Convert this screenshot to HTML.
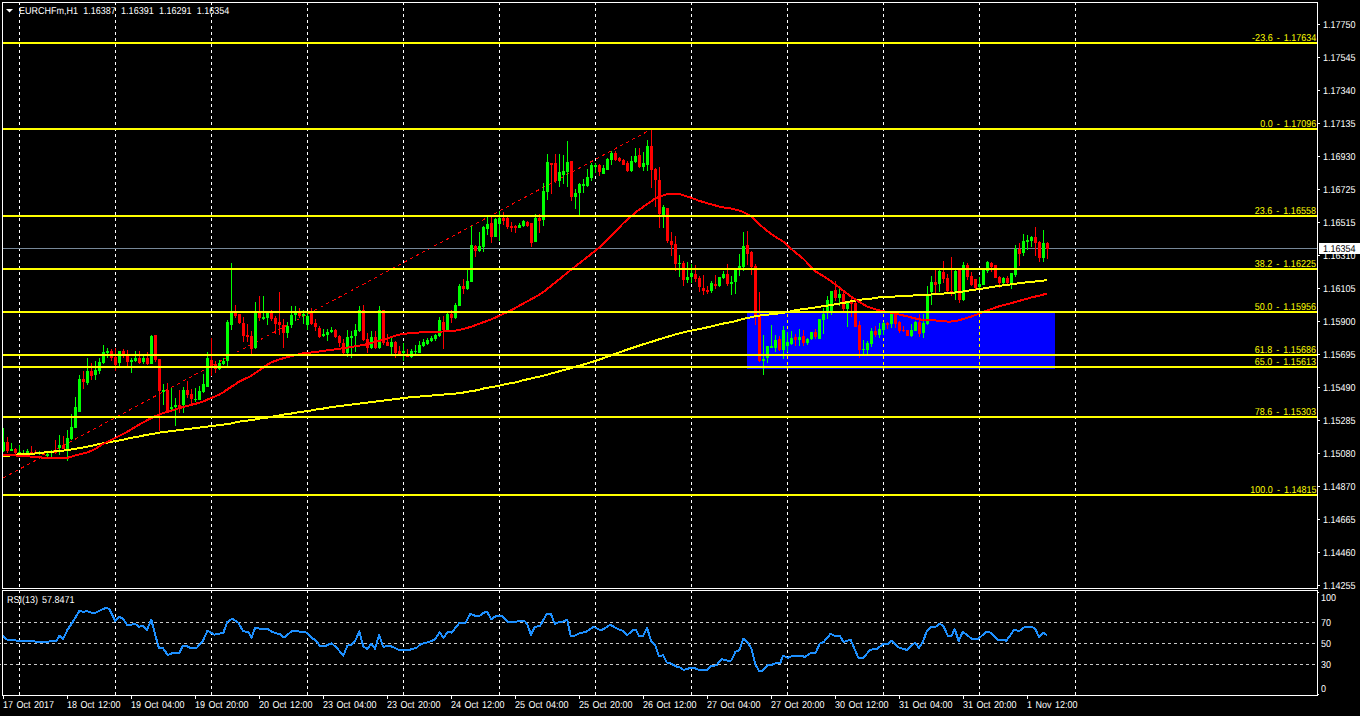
<!DOCTYPE html>
<html><head><meta charset="utf-8"><style>
html,body{margin:0;padding:0;background:#000;}
body{width:1360px;height:716px;position:relative;overflow:hidden;}
.t{position:absolute;font-family:"Liberation Sans",sans-serif;font-size:10px;line-height:12px;white-space:pre;transform:scaleX(0.9);text-rendering:geometricPrecision;transform-origin:0 0;}
.t.r{transform-origin:100% 0;}
</style></head><body>
<svg width="1360" height="716" viewBox="0 0 1360 716" shape-rendering="crispEdges" style="position:absolute;left:0;top:0"><rect x="0" y="0" width="1360" height="716" fill="#000"/><rect x="747" y="311" width="308" height="58" fill="#0000ff"/><line x1="19.5" y1="2" x2="19.5" y2="588" stroke="#fff" stroke-width="1" stroke-dasharray="3 3"/><line x1="19.5" y1="590" x2="19.5" y2="695" stroke="#fff" stroke-width="1" stroke-dasharray="3 3"/><line x1="115.5" y1="2" x2="115.5" y2="588" stroke="#fff" stroke-width="1" stroke-dasharray="3 3"/><line x1="115.5" y1="590" x2="115.5" y2="695" stroke="#fff" stroke-width="1" stroke-dasharray="3 3"/><line x1="211.5" y1="2" x2="211.5" y2="588" stroke="#fff" stroke-width="1" stroke-dasharray="3 3"/><line x1="211.5" y1="590" x2="211.5" y2="695" stroke="#fff" stroke-width="1" stroke-dasharray="3 3"/><line x1="307.5" y1="2" x2="307.5" y2="588" stroke="#fff" stroke-width="1" stroke-dasharray="3 3"/><line x1="307.5" y1="590" x2="307.5" y2="695" stroke="#fff" stroke-width="1" stroke-dasharray="3 3"/><line x1="403.5" y1="2" x2="403.5" y2="588" stroke="#fff" stroke-width="1" stroke-dasharray="3 3"/><line x1="403.5" y1="590" x2="403.5" y2="695" stroke="#fff" stroke-width="1" stroke-dasharray="3 3"/><line x1="499.5" y1="2" x2="499.5" y2="588" stroke="#fff" stroke-width="1" stroke-dasharray="3 3"/><line x1="499.5" y1="590" x2="499.5" y2="695" stroke="#fff" stroke-width="1" stroke-dasharray="3 3"/><line x1="595.5" y1="2" x2="595.5" y2="588" stroke="#fff" stroke-width="1" stroke-dasharray="3 3"/><line x1="595.5" y1="590" x2="595.5" y2="695" stroke="#fff" stroke-width="1" stroke-dasharray="3 3"/><line x1="691.5" y1="2" x2="691.5" y2="588" stroke="#fff" stroke-width="1" stroke-dasharray="3 3"/><line x1="691.5" y1="590" x2="691.5" y2="695" stroke="#fff" stroke-width="1" stroke-dasharray="3 3"/><line x1="787.5" y1="2" x2="787.5" y2="588" stroke="#fff" stroke-width="1" stroke-dasharray="3 3"/><line x1="787.5" y1="311" x2="787.5" y2="369" stroke="#ffff00" stroke-width="1" stroke-dasharray="3 3" stroke-dashoffset="-309"/><line x1="787.5" y1="590" x2="787.5" y2="695" stroke="#fff" stroke-width="1" stroke-dasharray="3 3"/><line x1="883.5" y1="2" x2="883.5" y2="588" stroke="#fff" stroke-width="1" stroke-dasharray="3 3"/><line x1="883.5" y1="311" x2="883.5" y2="369" stroke="#ffff00" stroke-width="1" stroke-dasharray="3 3" stroke-dashoffset="-309"/><line x1="883.5" y1="590" x2="883.5" y2="695" stroke="#fff" stroke-width="1" stroke-dasharray="3 3"/><line x1="979.5" y1="2" x2="979.5" y2="588" stroke="#fff" stroke-width="1" stroke-dasharray="3 3"/><line x1="979.5" y1="311" x2="979.5" y2="369" stroke="#ffff00" stroke-width="1" stroke-dasharray="3 3" stroke-dashoffset="-309"/><line x1="979.5" y1="590" x2="979.5" y2="695" stroke="#fff" stroke-width="1" stroke-dasharray="3 3"/><line x1="1075.5" y1="2" x2="1075.5" y2="588" stroke="#fff" stroke-width="1" stroke-dasharray="3 3"/><line x1="1075.5" y1="590" x2="1075.5" y2="695" stroke="#fff" stroke-width="1" stroke-dasharray="3 3"/><line x1="3" y1="478.0" x2="651" y2="129.5" stroke="#ff0000" stroke-width="1" stroke-dasharray="3.4 3.4" shape-rendering="crispEdges"/><rect x="3" y="248" width="1314" height="1" fill="#778899"/><rect x="3" y="428" width="1" height="24" fill="#00ff00"/><rect x="2" y="442" width="3" height="9" fill="#00ff00"/><rect x="7" y="437" width="1" height="16" fill="#ff0000"/><rect x="6" y="442" width="3" height="9" fill="#ff0000"/><rect x="11" y="443" width="1" height="8" fill="#00ff00"/><rect x="10" y="449" width="3" height="2" fill="#00ff00"/><rect x="15" y="448" width="1" height="6" fill="#ff0000"/><rect x="14" y="449" width="3" height="4" fill="#ff0000"/><rect x="19" y="445" width="1" height="9" fill="#00ff00"/><rect x="18" y="452" width="3" height="2" fill="#00ff00"/><rect x="23" y="450" width="1" height="4" fill="#00ff00"/><rect x="22" y="453" width="3" height="1" fill="#00ff00"/><rect x="27" y="449" width="1" height="4" fill="#00ff00"/><rect x="26" y="451" width="3" height="2" fill="#00ff00"/><rect x="31" y="446" width="1" height="7" fill="#ff0000"/><rect x="30" y="452" width="3" height="1" fill="#ff0000"/><rect x="35" y="450" width="1" height="4" fill="#ff0000"/><rect x="34" y="452" width="3" height="2" fill="#ff0000"/><rect x="39" y="451" width="1" height="4" fill="#00ff00"/><rect x="38" y="452" width="3" height="2" fill="#00ff00"/><rect x="43" y="453" width="1" height="2" fill="#ff0000"/><rect x="42" y="453" width="3" height="2" fill="#ff0000"/><rect x="47" y="453" width="1" height="4" fill="#00ff00"/><rect x="46" y="454" width="3" height="2" fill="#00ff00"/><rect x="51" y="450" width="1" height="7" fill="#00ff00"/><rect x="50" y="451" width="3" height="2" fill="#00ff00"/><rect x="55" y="440" width="1" height="14" fill="#ff0000"/><rect x="54" y="452" width="3" height="1" fill="#ff0000"/><rect x="59" y="435" width="1" height="20" fill="#00ff00"/><rect x="58" y="445" width="3" height="3" fill="#00ff00"/><rect x="63" y="436" width="1" height="13" fill="#ff0000"/><rect x="62" y="445" width="3" height="4" fill="#ff0000"/><rect x="67" y="430" width="1" height="31" fill="#00ff00"/><rect x="66" y="438" width="3" height="11" fill="#00ff00"/><rect x="71" y="414" width="1" height="26" fill="#00ff00"/><rect x="70" y="427" width="3" height="12" fill="#00ff00"/><rect x="75" y="397" width="1" height="31" fill="#00ff00"/><rect x="74" y="407" width="3" height="21" fill="#00ff00"/><rect x="79" y="375" width="1" height="37" fill="#00ff00"/><rect x="78" y="379" width="3" height="33" fill="#00ff00"/><rect x="83" y="371" width="1" height="18" fill="#ff0000"/><rect x="82" y="379" width="3" height="3" fill="#ff0000"/><rect x="87" y="358" width="1" height="27" fill="#00ff00"/><rect x="86" y="371" width="3" height="12" fill="#00ff00"/><rect x="91" y="363" width="1" height="17" fill="#ff0000"/><rect x="90" y="371" width="3" height="5" fill="#ff0000"/><rect x="95" y="361" width="1" height="19" fill="#00ff00"/><rect x="94" y="370" width="3" height="5" fill="#00ff00"/><rect x="99" y="358" width="1" height="16" fill="#00ff00"/><rect x="98" y="362" width="3" height="9" fill="#00ff00"/><rect x="103" y="345" width="1" height="19" fill="#00ff00"/><rect x="102" y="352" width="3" height="11" fill="#00ff00"/><rect x="107" y="348" width="1" height="10" fill="#00ff00"/><rect x="106" y="351" width="3" height="2" fill="#00ff00"/><rect x="111" y="349" width="1" height="12" fill="#ff0000"/><rect x="110" y="351" width="3" height="7" fill="#ff0000"/><rect x="115" y="348" width="1" height="23" fill="#ff0000"/><rect x="114" y="357" width="3" height="8" fill="#ff0000"/><rect x="119" y="351" width="1" height="15" fill="#00ff00"/><rect x="118" y="351" width="3" height="12" fill="#00ff00"/><rect x="123" y="349" width="1" height="9" fill="#ff0000"/><rect x="122" y="351" width="3" height="4" fill="#ff0000"/><rect x="127" y="350" width="1" height="16" fill="#ff0000"/><rect x="126" y="355" width="3" height="7" fill="#ff0000"/><rect x="131" y="358" width="1" height="15" fill="#00ff00"/><rect x="130" y="360" width="3" height="2" fill="#00ff00"/><rect x="135" y="351" width="1" height="11" fill="#00ff00"/><rect x="134" y="358" width="3" height="3" fill="#00ff00"/><rect x="139" y="351" width="1" height="13" fill="#ff0000"/><rect x="138" y="358" width="3" height="5" fill="#ff0000"/><rect x="143" y="355" width="1" height="9" fill="#00ff00"/><rect x="142" y="358" width="3" height="4" fill="#00ff00"/><rect x="147" y="352" width="1" height="13" fill="#ff0000"/><rect x="146" y="358" width="3" height="6" fill="#ff0000"/><rect x="151" y="335" width="1" height="29" fill="#00ff00"/><rect x="150" y="336" width="3" height="28" fill="#00ff00"/><rect x="155" y="335" width="1" height="27" fill="#ff0000"/><rect x="154" y="335" width="3" height="25" fill="#ff0000"/><rect x="159" y="359" width="1" height="72" fill="#ff0000"/><rect x="158" y="359" width="3" height="32" fill="#ff0000"/><rect x="163" y="384" width="1" height="21" fill="#00ff00"/><rect x="162" y="390" width="3" height="2" fill="#00ff00"/><rect x="167" y="383" width="1" height="29" fill="#ff0000"/><rect x="166" y="390" width="3" height="21" fill="#ff0000"/><rect x="171" y="388" width="1" height="22" fill="#00ff00"/><rect x="170" y="407" width="3" height="2" fill="#00ff00"/><rect x="175" y="398" width="1" height="28" fill="#00ff00"/><rect x="174" y="405" width="3" height="2" fill="#00ff00"/><rect x="179" y="390" width="1" height="23" fill="#ff0000"/><rect x="178" y="405" width="3" height="2" fill="#ff0000"/><rect x="183" y="387" width="1" height="26" fill="#00ff00"/><rect x="182" y="390" width="3" height="15" fill="#00ff00"/><rect x="187" y="381" width="1" height="17" fill="#ff0000"/><rect x="186" y="390" width="3" height="5" fill="#ff0000"/><rect x="191" y="389" width="1" height="15" fill="#ff0000"/><rect x="190" y="394" width="3" height="5" fill="#ff0000"/><rect x="195" y="388" width="1" height="14" fill="#00ff00"/><rect x="194" y="399" width="3" height="1" fill="#00ff00"/><rect x="199" y="386" width="1" height="14" fill="#00ff00"/><rect x="198" y="391" width="3" height="9" fill="#00ff00"/><rect x="203" y="374" width="1" height="19" fill="#00ff00"/><rect x="202" y="384" width="3" height="8" fill="#00ff00"/><rect x="207" y="352" width="1" height="35" fill="#00ff00"/><rect x="206" y="358" width="3" height="29" fill="#00ff00"/><rect x="211" y="338" width="1" height="38" fill="#ff0000"/><rect x="210" y="360" width="3" height="7" fill="#ff0000"/><rect x="215" y="361" width="1" height="12" fill="#ff0000"/><rect x="214" y="364" width="3" height="5" fill="#ff0000"/><rect x="219" y="360" width="1" height="10" fill="#00ff00"/><rect x="218" y="363" width="3" height="6" fill="#00ff00"/><rect x="223" y="358" width="1" height="7" fill="#00ff00"/><rect x="222" y="361" width="3" height="3" fill="#00ff00"/><rect x="227" y="320" width="1" height="46" fill="#00ff00"/><rect x="226" y="322" width="3" height="39" fill="#00ff00"/><rect x="231" y="263" width="1" height="67" fill="#00ff00"/><rect x="230" y="313" width="3" height="12" fill="#00ff00"/><rect x="235" y="305" width="1" height="13" fill="#ff0000"/><rect x="234" y="313" width="3" height="3" fill="#ff0000"/><rect x="239" y="314" width="1" height="10" fill="#ff0000"/><rect x="238" y="314" width="3" height="9" fill="#ff0000"/><rect x="243" y="317" width="1" height="25" fill="#ff0000"/><rect x="242" y="323" width="3" height="13" fill="#ff0000"/><rect x="247" y="324" width="1" height="18" fill="#ff0000"/><rect x="246" y="335" width="3" height="2" fill="#ff0000"/><rect x="251" y="331" width="1" height="23" fill="#ff0000"/><rect x="250" y="336" width="3" height="13" fill="#ff0000"/><rect x="255" y="302" width="1" height="47" fill="#00ff00"/><rect x="254" y="313" width="3" height="35" fill="#00ff00"/><rect x="259" y="296" width="1" height="25" fill="#ff0000"/><rect x="258" y="313" width="3" height="5" fill="#ff0000"/><rect x="263" y="296" width="1" height="24" fill="#00ff00"/><rect x="262" y="317" width="3" height="2" fill="#00ff00"/><rect x="267" y="311" width="1" height="14" fill="#00ff00"/><rect x="266" y="313" width="3" height="5" fill="#00ff00"/><rect x="271" y="310" width="1" height="11" fill="#ff0000"/><rect x="270" y="313" width="3" height="6" fill="#ff0000"/><rect x="275" y="316" width="1" height="18" fill="#ff0000"/><rect x="274" y="318" width="3" height="6" fill="#ff0000"/><rect x="279" y="292" width="1" height="43" fill="#ff0000"/><rect x="278" y="322" width="3" height="3" fill="#ff0000"/><rect x="283" y="319" width="1" height="29" fill="#ff0000"/><rect x="282" y="325" width="3" height="8" fill="#ff0000"/><rect x="287" y="322" width="1" height="16" fill="#00ff00"/><rect x="286" y="326" width="3" height="7" fill="#00ff00"/><rect x="291" y="306" width="1" height="22" fill="#00ff00"/><rect x="290" y="315" width="3" height="10" fill="#00ff00"/><rect x="295" y="306" width="1" height="15" fill="#00ff00"/><rect x="294" y="313" width="3" height="2" fill="#00ff00"/><rect x="299" y="308" width="1" height="10" fill="#ff0000"/><rect x="298" y="313" width="3" height="3" fill="#ff0000"/><rect x="303" y="310" width="1" height="14" fill="#00ff00"/><rect x="302" y="314" width="3" height="2" fill="#00ff00"/><rect x="307" y="313" width="1" height="17" fill="#00ff00"/><rect x="306" y="316" width="3" height="9" fill="#00ff00"/><rect x="311" y="308" width="1" height="17" fill="#ff0000"/><rect x="310" y="313" width="3" height="11" fill="#ff0000"/><rect x="315" y="319" width="1" height="12" fill="#ff0000"/><rect x="314" y="323" width="3" height="4" fill="#ff0000"/><rect x="319" y="326" width="1" height="12" fill="#ff0000"/><rect x="318" y="328" width="3" height="9" fill="#ff0000"/><rect x="323" y="329" width="1" height="8" fill="#00ff00"/><rect x="322" y="334" width="3" height="2" fill="#00ff00"/><rect x="327" y="329" width="1" height="12" fill="#00ff00"/><rect x="326" y="332" width="3" height="3" fill="#00ff00"/><rect x="331" y="327" width="1" height="6" fill="#00ff00"/><rect x="330" y="330" width="3" height="2" fill="#00ff00"/><rect x="335" y="329" width="1" height="9" fill="#ff0000"/><rect x="334" y="330" width="3" height="7" fill="#ff0000"/><rect x="339" y="335" width="1" height="12" fill="#ff0000"/><rect x="338" y="336" width="3" height="7" fill="#ff0000"/><rect x="343" y="339" width="1" height="15" fill="#ff0000"/><rect x="342" y="343" width="3" height="10" fill="#ff0000"/><rect x="347" y="330" width="1" height="27" fill="#00ff00"/><rect x="346" y="337" width="3" height="16" fill="#00ff00"/><rect x="351" y="331" width="1" height="27" fill="#00ff00"/><rect x="350" y="336" width="3" height="2" fill="#00ff00"/><rect x="355" y="324" width="1" height="28" fill="#00ff00"/><rect x="354" y="330" width="3" height="6" fill="#00ff00"/><rect x="359" y="306" width="1" height="26" fill="#00ff00"/><rect x="358" y="310" width="3" height="21" fill="#00ff00"/><rect x="363" y="305" width="1" height="36" fill="#ff0000"/><rect x="362" y="310" width="3" height="30" fill="#ff0000"/><rect x="367" y="333" width="1" height="20" fill="#ff0000"/><rect x="366" y="339" width="3" height="9" fill="#ff0000"/><rect x="371" y="331" width="1" height="18" fill="#00ff00"/><rect x="370" y="337" width="3" height="11" fill="#00ff00"/><rect x="375" y="331" width="1" height="18" fill="#ff0000"/><rect x="374" y="337" width="3" height="11" fill="#ff0000"/><rect x="379" y="306" width="1" height="43" fill="#00ff00"/><rect x="378" y="310" width="3" height="38" fill="#00ff00"/><rect x="383" y="310" width="1" height="35" fill="#ff0000"/><rect x="382" y="310" width="3" height="33" fill="#ff0000"/><rect x="387" y="334" width="1" height="12" fill="#ff0000"/><rect x="386" y="342" width="3" height="4" fill="#ff0000"/><rect x="391" y="338" width="1" height="16" fill="#00ff00"/><rect x="390" y="342" width="3" height="5" fill="#00ff00"/><rect x="395" y="341" width="1" height="17" fill="#ff0000"/><rect x="394" y="342" width="3" height="11" fill="#ff0000"/><rect x="399" y="346" width="1" height="10" fill="#ff0000"/><rect x="398" y="351" width="3" height="5" fill="#ff0000"/><rect x="403" y="343" width="1" height="18" fill="#00ff00"/><rect x="402" y="351" width="3" height="2" fill="#00ff00"/><rect x="407" y="349" width="1" height="8" fill="#ff0000"/><rect x="406" y="354" width="3" height="3" fill="#ff0000"/><rect x="411" y="349" width="1" height="9" fill="#00ff00"/><rect x="410" y="351" width="3" height="6" fill="#00ff00"/><rect x="415" y="345" width="1" height="9" fill="#00ff00"/><rect x="414" y="351" width="3" height="1" fill="#00ff00"/><rect x="419" y="341" width="1" height="12" fill="#00ff00"/><rect x="418" y="345" width="3" height="8" fill="#00ff00"/><rect x="423" y="339" width="1" height="8" fill="#00ff00"/><rect x="422" y="342" width="3" height="4" fill="#00ff00"/><rect x="427" y="338" width="1" height="7" fill="#00ff00"/><rect x="426" y="340" width="3" height="4" fill="#00ff00"/><rect x="431" y="336" width="1" height="6" fill="#00ff00"/><rect x="430" y="338" width="3" height="3" fill="#00ff00"/><rect x="435" y="334" width="1" height="7" fill="#00ff00"/><rect x="434" y="335" width="3" height="4" fill="#00ff00"/><rect x="439" y="317" width="1" height="20" fill="#00ff00"/><rect x="438" y="320" width="3" height="16" fill="#00ff00"/><rect x="443" y="316" width="1" height="33" fill="#ff0000"/><rect x="442" y="322" width="3" height="8" fill="#ff0000"/><rect x="447" y="313" width="1" height="19" fill="#00ff00"/><rect x="446" y="314" width="3" height="16" fill="#00ff00"/><rect x="451" y="310" width="1" height="13" fill="#ff0000"/><rect x="450" y="314" width="3" height="4" fill="#ff0000"/><rect x="455" y="303" width="1" height="16" fill="#00ff00"/><rect x="454" y="305" width="3" height="13" fill="#00ff00"/><rect x="459" y="284" width="1" height="22" fill="#00ff00"/><rect x="458" y="286" width="3" height="20" fill="#00ff00"/><rect x="463" y="279" width="1" height="15" fill="#ff0000"/><rect x="462" y="286" width="3" height="3" fill="#ff0000"/><rect x="467" y="270" width="1" height="20" fill="#00ff00"/><rect x="466" y="281" width="3" height="8" fill="#00ff00"/><rect x="471" y="226" width="1" height="56" fill="#00ff00"/><rect x="470" y="245" width="3" height="37" fill="#00ff00"/><rect x="475" y="245" width="1" height="12" fill="#ff0000"/><rect x="474" y="246" width="3" height="5" fill="#ff0000"/><rect x="479" y="232" width="1" height="20" fill="#00ff00"/><rect x="478" y="246" width="3" height="5" fill="#00ff00"/><rect x="483" y="226" width="1" height="26" fill="#00ff00"/><rect x="482" y="227" width="3" height="20" fill="#00ff00"/><rect x="487" y="217" width="1" height="18" fill="#00ff00"/><rect x="486" y="224" width="3" height="5" fill="#00ff00"/><rect x="491" y="217" width="1" height="26" fill="#ff0000"/><rect x="490" y="223" width="3" height="14" fill="#ff0000"/><rect x="495" y="218" width="1" height="19" fill="#00ff00"/><rect x="494" y="219" width="3" height="18" fill="#00ff00"/><rect x="499" y="211" width="1" height="30" fill="#00ff00"/><rect x="498" y="218" width="3" height="6" fill="#00ff00"/><rect x="503" y="212" width="1" height="13" fill="#ff0000"/><rect x="502" y="218" width="3" height="3" fill="#ff0000"/><rect x="507" y="217" width="1" height="12" fill="#ff0000"/><rect x="506" y="218" width="3" height="9" fill="#ff0000"/><rect x="511" y="222" width="1" height="10" fill="#ff0000"/><rect x="510" y="226" width="3" height="2" fill="#ff0000"/><rect x="515" y="225" width="1" height="8" fill="#ff0000"/><rect x="514" y="226" width="3" height="2" fill="#ff0000"/><rect x="519" y="223" width="1" height="5" fill="#00ff00"/><rect x="518" y="225" width="3" height="3" fill="#00ff00"/><rect x="523" y="220" width="1" height="7" fill="#00ff00"/><rect x="522" y="221" width="3" height="5" fill="#00ff00"/><rect x="527" y="221" width="1" height="6" fill="#ff0000"/><rect x="526" y="222" width="3" height="4" fill="#ff0000"/><rect x="531" y="223" width="1" height="24" fill="#ff0000"/><rect x="530" y="223" width="3" height="20" fill="#ff0000"/><rect x="535" y="214" width="1" height="28" fill="#00ff00"/><rect x="534" y="218" width="3" height="24" fill="#00ff00"/><rect x="539" y="214" width="1" height="19" fill="#ff0000"/><rect x="538" y="218" width="3" height="3" fill="#ff0000"/><rect x="543" y="183" width="1" height="43" fill="#00ff00"/><rect x="542" y="191" width="3" height="29" fill="#00ff00"/><rect x="547" y="154" width="1" height="46" fill="#00ff00"/><rect x="546" y="162" width="3" height="30" fill="#00ff00"/><rect x="551" y="163" width="1" height="31" fill="#ff0000"/><rect x="550" y="163" width="3" height="2" fill="#ff0000"/><rect x="555" y="154" width="1" height="29" fill="#ff0000"/><rect x="554" y="163" width="3" height="18" fill="#ff0000"/><rect x="559" y="154" width="1" height="33" fill="#00ff00"/><rect x="558" y="172" width="3" height="9" fill="#00ff00"/><rect x="563" y="155" width="1" height="29" fill="#00ff00"/><rect x="562" y="171" width="3" height="4" fill="#00ff00"/><rect x="567" y="141" width="1" height="46" fill="#00ff00"/><rect x="566" y="162" width="3" height="10" fill="#00ff00"/><rect x="571" y="161" width="1" height="40" fill="#ff0000"/><rect x="570" y="161" width="3" height="36" fill="#ff0000"/><rect x="575" y="189" width="1" height="20" fill="#00ff00"/><rect x="574" y="193" width="3" height="4" fill="#00ff00"/><rect x="579" y="183" width="1" height="32" fill="#00ff00"/><rect x="578" y="184" width="3" height="9" fill="#00ff00"/><rect x="583" y="179" width="1" height="14" fill="#00ff00"/><rect x="582" y="184" width="3" height="2" fill="#00ff00"/><rect x="587" y="169" width="1" height="18" fill="#00ff00"/><rect x="586" y="177" width="3" height="9" fill="#00ff00"/><rect x="591" y="163" width="1" height="18" fill="#00ff00"/><rect x="590" y="165" width="3" height="13" fill="#00ff00"/><rect x="595" y="163" width="1" height="10" fill="#00ff00"/><rect x="594" y="165" width="3" height="2" fill="#00ff00"/><rect x="599" y="164" width="1" height="12" fill="#ff0000"/><rect x="598" y="165" width="3" height="7" fill="#ff0000"/><rect x="603" y="165" width="1" height="9" fill="#00ff00"/><rect x="602" y="168" width="3" height="6" fill="#00ff00"/><rect x="607" y="158" width="1" height="12" fill="#00ff00"/><rect x="606" y="159" width="3" height="11" fill="#00ff00"/><rect x="611" y="151" width="1" height="14" fill="#00ff00"/><rect x="610" y="153" width="3" height="7" fill="#00ff00"/><rect x="615" y="151" width="1" height="10" fill="#ff0000"/><rect x="614" y="153" width="3" height="7" fill="#ff0000"/><rect x="619" y="157" width="1" height="5" fill="#ff0000"/><rect x="618" y="158" width="3" height="3" fill="#ff0000"/><rect x="623" y="159" width="1" height="6" fill="#ff0000"/><rect x="622" y="160" width="3" height="5" fill="#ff0000"/><rect x="627" y="161" width="1" height="11" fill="#ff0000"/><rect x="626" y="163" width="3" height="8" fill="#ff0000"/><rect x="631" y="156" width="1" height="16" fill="#00ff00"/><rect x="630" y="161" width="3" height="10" fill="#00ff00"/><rect x="635" y="148" width="1" height="15" fill="#00ff00"/><rect x="634" y="156" width="3" height="6" fill="#00ff00"/><rect x="639" y="148" width="1" height="20" fill="#ff0000"/><rect x="638" y="155" width="3" height="12" fill="#ff0000"/><rect x="643" y="152" width="1" height="19" fill="#00ff00"/><rect x="642" y="163" width="3" height="4" fill="#00ff00"/><rect x="647" y="140" width="1" height="31" fill="#00ff00"/><rect x="646" y="146" width="3" height="19" fill="#00ff00"/><rect x="651" y="130" width="1" height="58" fill="#ff0000"/><rect x="650" y="146" width="3" height="24" fill="#ff0000"/><rect x="655" y="168" width="1" height="39" fill="#ff0000"/><rect x="654" y="169" width="3" height="11" fill="#ff0000"/><rect x="659" y="167" width="1" height="61" fill="#ff0000"/><rect x="658" y="180" width="3" height="34" fill="#ff0000"/><rect x="663" y="205" width="1" height="23" fill="#00ff00"/><rect x="662" y="207" width="3" height="8" fill="#00ff00"/><rect x="667" y="208" width="1" height="35" fill="#ff0000"/><rect x="666" y="208" width="3" height="33" fill="#ff0000"/><rect x="671" y="232" width="1" height="24" fill="#ff0000"/><rect x="670" y="241" width="3" height="4" fill="#ff0000"/><rect x="675" y="236" width="1" height="35" fill="#ff0000"/><rect x="674" y="244" width="3" height="20" fill="#ff0000"/><rect x="679" y="255" width="1" height="22" fill="#00ff00"/><rect x="678" y="263" width="3" height="1" fill="#00ff00"/><rect x="683" y="261" width="1" height="25" fill="#ff0000"/><rect x="682" y="263" width="3" height="17" fill="#ff0000"/><rect x="687" y="262" width="1" height="21" fill="#00ff00"/><rect x="686" y="277" width="3" height="3" fill="#00ff00"/><rect x="691" y="264" width="1" height="19" fill="#00ff00"/><rect x="690" y="273" width="3" height="4" fill="#00ff00"/><rect x="695" y="265" width="1" height="17" fill="#ff0000"/><rect x="694" y="274" width="3" height="5" fill="#ff0000"/><rect x="699" y="276" width="1" height="16" fill="#ff0000"/><rect x="698" y="278" width="3" height="9" fill="#ff0000"/><rect x="703" y="275" width="1" height="20" fill="#ff0000"/><rect x="702" y="288" width="3" height="3" fill="#ff0000"/><rect x="707" y="286" width="1" height="8" fill="#ff0000"/><rect x="706" y="290" width="3" height="2" fill="#ff0000"/><rect x="711" y="281" width="1" height="12" fill="#00ff00"/><rect x="710" y="283" width="3" height="8" fill="#00ff00"/><rect x="715" y="275" width="1" height="14" fill="#ff0000"/><rect x="714" y="284" width="3" height="2" fill="#ff0000"/><rect x="719" y="277" width="1" height="10" fill="#00ff00"/><rect x="718" y="277" width="3" height="9" fill="#00ff00"/><rect x="723" y="271" width="1" height="8" fill="#00ff00"/><rect x="722" y="274" width="3" height="4" fill="#00ff00"/><rect x="727" y="264" width="1" height="22" fill="#ff0000"/><rect x="726" y="274" width="3" height="10" fill="#ff0000"/><rect x="731" y="276" width="1" height="19" fill="#00ff00"/><rect x="730" y="282" width="3" height="2" fill="#00ff00"/><rect x="735" y="270" width="1" height="24" fill="#00ff00"/><rect x="734" y="270" width="3" height="12" fill="#00ff00"/><rect x="739" y="254" width="1" height="22" fill="#00ff00"/><rect x="738" y="266" width="3" height="2" fill="#00ff00"/><rect x="743" y="232" width="1" height="39" fill="#00ff00"/><rect x="742" y="246" width="3" height="21" fill="#00ff00"/><rect x="747" y="231" width="1" height="34" fill="#ff0000"/><rect x="746" y="245" width="3" height="9" fill="#ff0000"/><rect x="751" y="251" width="1" height="24" fill="#ff0000"/><rect x="750" y="252" width="3" height="15" fill="#ff0000"/><rect x="755" y="264" width="1" height="61" fill="#ff0000"/><rect x="754" y="266" width="3" height="51" fill="#ff0000"/><rect x="759" y="292" width="1" height="70" fill="#ff0000"/><rect x="758" y="316" width="3" height="45" fill="#ff0000"/><rect x="763" y="335" width="1" height="40" fill="#00ff00"/><rect x="762" y="359" width="3" height="2" fill="#00ff00"/><rect x="767" y="346" width="1" height="17" fill="#00ff00"/><rect x="766" y="346" width="3" height="12" fill="#00ff00"/><rect x="771" y="325" width="1" height="23" fill="#00ff00"/><rect x="770" y="346" width="3" height="2" fill="#00ff00"/><rect x="775" y="335" width="1" height="17" fill="#00ff00"/><rect x="774" y="340" width="3" height="8" fill="#00ff00"/><rect x="779" y="336" width="1" height="15" fill="#ff0000"/><rect x="778" y="339" width="3" height="11" fill="#ff0000"/><rect x="783" y="326" width="1" height="33" fill="#00ff00"/><rect x="782" y="330" width="3" height="20" fill="#00ff00"/><rect x="787" y="332" width="1" height="20" fill="#00ff00"/><rect x="786" y="342" width="3" height="4" fill="#00ff00"/><rect x="791" y="331" width="1" height="14" fill="#00ff00"/><rect x="790" y="338" width="3" height="6" fill="#00ff00"/><rect x="795" y="334" width="1" height="12" fill="#ff0000"/><rect x="794" y="337" width="3" height="3" fill="#ff0000"/><rect x="799" y="329" width="1" height="17" fill="#00ff00"/><rect x="798" y="337" width="3" height="3" fill="#00ff00"/><rect x="803" y="330" width="1" height="16" fill="#ff0000"/><rect x="802" y="336" width="3" height="7" fill="#ff0000"/><rect x="807" y="338" width="1" height="7" fill="#00ff00"/><rect x="806" y="339" width="3" height="4" fill="#00ff00"/><rect x="811" y="332" width="1" height="8" fill="#00ff00"/><rect x="810" y="332" width="3" height="7" fill="#00ff00"/><rect x="815" y="329" width="1" height="10" fill="#ff0000"/><rect x="814" y="332" width="3" height="5" fill="#ff0000"/><rect x="819" y="319" width="1" height="20" fill="#00ff00"/><rect x="818" y="319" width="3" height="20" fill="#00ff00"/><rect x="823" y="308" width="1" height="26" fill="#00ff00"/><rect x="822" y="314" width="3" height="6" fill="#00ff00"/><rect x="827" y="296" width="1" height="23" fill="#00ff00"/><rect x="826" y="300" width="3" height="11" fill="#00ff00"/><rect x="831" y="291" width="1" height="24" fill="#00ff00"/><rect x="830" y="291" width="3" height="20" fill="#00ff00"/><rect x="835" y="281" width="1" height="20" fill="#ff0000"/><rect x="834" y="290" width="3" height="8" fill="#ff0000"/><rect x="839" y="287" width="1" height="19" fill="#00ff00"/><rect x="838" y="294" width="3" height="4" fill="#00ff00"/><rect x="843" y="291" width="1" height="20" fill="#ff0000"/><rect x="842" y="294" width="3" height="15" fill="#ff0000"/><rect x="847" y="303" width="1" height="24" fill="#00ff00"/><rect x="846" y="303" width="3" height="6" fill="#00ff00"/><rect x="851" y="297" width="1" height="20" fill="#ff0000"/><rect x="850" y="302" width="3" height="2" fill="#ff0000"/><rect x="855" y="301" width="1" height="26" fill="#ff0000"/><rect x="854" y="303" width="3" height="24" fill="#ff0000"/><rect x="859" y="321" width="1" height="37" fill="#ff0000"/><rect x="858" y="325" width="3" height="25" fill="#ff0000"/><rect x="863" y="340" width="1" height="14" fill="#00ff00"/><rect x="862" y="349" width="3" height="1" fill="#00ff00"/><rect x="867" y="341" width="1" height="13" fill="#00ff00"/><rect x="866" y="343" width="3" height="7" fill="#00ff00"/><rect x="871" y="328" width="1" height="19" fill="#00ff00"/><rect x="870" y="331" width="3" height="13" fill="#00ff00"/><rect x="875" y="326" width="1" height="11" fill="#ff0000"/><rect x="874" y="331" width="3" height="4" fill="#ff0000"/><rect x="879" y="323" width="1" height="15" fill="#00ff00"/><rect x="878" y="329" width="3" height="6" fill="#00ff00"/><rect x="883" y="322" width="1" height="13" fill="#00ff00"/><rect x="882" y="323" width="3" height="7" fill="#00ff00"/><rect x="887" y="322" width="1" height="7" fill="#ff0000"/><rect x="886" y="323" width="3" height="2" fill="#ff0000"/><rect x="891" y="314" width="1" height="14" fill="#00ff00"/><rect x="890" y="314" width="3" height="10" fill="#00ff00"/><rect x="895" y="314" width="1" height="14" fill="#ff0000"/><rect x="894" y="315" width="3" height="9" fill="#ff0000"/><rect x="899" y="321" width="1" height="12" fill="#ff0000"/><rect x="898" y="322" width="3" height="9" fill="#ff0000"/><rect x="903" y="326" width="1" height="6" fill="#ff0000"/><rect x="902" y="330" width="3" height="1" fill="#ff0000"/><rect x="907" y="330" width="1" height="6" fill="#ff0000"/><rect x="906" y="330" width="3" height="6" fill="#ff0000"/><rect x="911" y="324" width="1" height="13" fill="#00ff00"/><rect x="910" y="330" width="3" height="6" fill="#00ff00"/><rect x="915" y="321" width="1" height="10" fill="#00ff00"/><rect x="914" y="322" width="3" height="9" fill="#00ff00"/><rect x="919" y="314" width="1" height="23" fill="#ff0000"/><rect x="918" y="322" width="3" height="12" fill="#ff0000"/><rect x="923" y="314" width="1" height="24" fill="#00ff00"/><rect x="922" y="323" width="3" height="10" fill="#00ff00"/><rect x="927" y="286" width="1" height="39" fill="#00ff00"/><rect x="926" y="294" width="3" height="30" fill="#00ff00"/><rect x="931" y="276" width="1" height="29" fill="#00ff00"/><rect x="930" y="282" width="3" height="10" fill="#00ff00"/><rect x="935" y="270" width="1" height="23" fill="#ff0000"/><rect x="934" y="282" width="3" height="3" fill="#ff0000"/><rect x="939" y="270" width="1" height="22" fill="#00ff00"/><rect x="938" y="271" width="3" height="13" fill="#00ff00"/><rect x="943" y="261" width="1" height="22" fill="#ff0000"/><rect x="942" y="272" width="3" height="7" fill="#ff0000"/><rect x="947" y="274" width="1" height="18" fill="#ff0000"/><rect x="946" y="278" width="3" height="13" fill="#ff0000"/><rect x="951" y="257" width="1" height="39" fill="#ff0000"/><rect x="950" y="291" width="3" height="1" fill="#ff0000"/><rect x="955" y="270" width="1" height="30" fill="#00ff00"/><rect x="954" y="271" width="3" height="21" fill="#00ff00"/><rect x="959" y="270" width="1" height="33" fill="#ff0000"/><rect x="958" y="270" width="3" height="30" fill="#ff0000"/><rect x="963" y="262" width="1" height="39" fill="#00ff00"/><rect x="962" y="265" width="3" height="35" fill="#00ff00"/><rect x="967" y="263" width="1" height="17" fill="#ff0000"/><rect x="966" y="265" width="3" height="12" fill="#ff0000"/><rect x="971" y="272" width="1" height="14" fill="#ff0000"/><rect x="970" y="276" width="3" height="9" fill="#ff0000"/><rect x="975" y="279" width="1" height="10" fill="#ff0000"/><rect x="974" y="279" width="3" height="9" fill="#ff0000"/><rect x="979" y="277" width="1" height="12" fill="#00ff00"/><rect x="978" y="284" width="3" height="3" fill="#00ff00"/><rect x="983" y="270" width="1" height="15" fill="#00ff00"/><rect x="982" y="270" width="3" height="15" fill="#00ff00"/><rect x="987" y="261" width="1" height="12" fill="#00ff00"/><rect x="986" y="262" width="3" height="9" fill="#00ff00"/><rect x="991" y="262" width="1" height="10" fill="#ff0000"/><rect x="990" y="263" width="3" height="4" fill="#ff0000"/><rect x="995" y="265" width="1" height="13" fill="#ff0000"/><rect x="994" y="265" width="3" height="13" fill="#ff0000"/><rect x="999" y="276" width="1" height="12" fill="#ff0000"/><rect x="998" y="277" width="3" height="6" fill="#ff0000"/><rect x="1003" y="277" width="1" height="7" fill="#00ff00"/><rect x="1002" y="278" width="3" height="5" fill="#00ff00"/><rect x="1007" y="276" width="1" height="8" fill="#ff0000"/><rect x="1006" y="278" width="3" height="5" fill="#ff0000"/><rect x="1011" y="273" width="1" height="16" fill="#00ff00"/><rect x="1010" y="273" width="3" height="10" fill="#00ff00"/><rect x="1015" y="245" width="1" height="32" fill="#00ff00"/><rect x="1014" y="249" width="3" height="26" fill="#00ff00"/><rect x="1019" y="243" width="1" height="23" fill="#ff0000"/><rect x="1018" y="249" width="3" height="5" fill="#ff0000"/><rect x="1023" y="234" width="1" height="22" fill="#00ff00"/><rect x="1022" y="241" width="3" height="12" fill="#00ff00"/><rect x="1027" y="235" width="1" height="15" fill="#00ff00"/><rect x="1026" y="240" width="3" height="2" fill="#00ff00"/><rect x="1031" y="236" width="1" height="11" fill="#00ff00"/><rect x="1030" y="237" width="3" height="4" fill="#00ff00"/><rect x="1035" y="227" width="1" height="29" fill="#ff0000"/><rect x="1034" y="237" width="3" height="6" fill="#ff0000"/><rect x="1039" y="241" width="1" height="21" fill="#ff0000"/><rect x="1038" y="242" width="3" height="16" fill="#ff0000"/><rect x="1043" y="230" width="1" height="32" fill="#00ff00"/><rect x="1042" y="243" width="3" height="15" fill="#00ff00"/><rect x="1047" y="242" width="1" height="17" fill="#ff0000"/><rect x="1046" y="243" width="3" height="6" fill="#ff0000"/><polyline points="3.0,456.5 7.0,456.0 11.0,455.3 15.0,454.7 19.0,454.3 23.0,454.1 27.0,453.9 31.0,453.7 35.0,453.5 39.0,453.1 43.0,452.6 47.0,452.2 51.0,451.8 55.0,451.4 59.0,451.0 63.0,450.6 67.0,450.2 71.0,449.5 75.0,448.9 79.0,448.2 83.0,447.5 87.0,446.7 91.0,445.9 95.0,445.2 99.0,443.9 103.0,443.3 107.0,442.6 111.0,441.8 115.0,441.1 119.0,440.6 123.0,439.7 127.0,438.8 131.0,437.8 135.0,437.1 139.0,436.5 143.0,435.6 147.0,434.8 151.0,434.1 155.0,433.6 159.0,432.7 163.0,432.1 167.0,431.6 171.0,431.1 175.0,430.6 179.0,430.1 183.0,429.6 187.0,429.1 191.0,428.6 195.0,428.1 199.0,427.6 203.0,427.1 207.0,426.6 211.0,426.1 215.0,425.6 219.0,425.1 223.0,424.6 227.0,424.1 231.0,423.6 235.0,422.6 239.0,421.7 243.0,421.1 247.0,420.6 251.0,420.1 255.0,419.5 259.0,418.7 263.0,418.1 267.0,417.6 271.0,416.8 275.0,416.1 279.0,415.5 283.0,414.7 287.0,414.1 291.0,413.6 295.0,412.8 299.0,412.1 303.0,411.6 307.0,411.1 311.0,410.5 315.0,409.7 319.0,409.1 323.0,408.6 327.0,407.8 331.0,407.1 335.0,406.6 339.0,406.1 343.0,405.6 347.0,405.1 351.0,404.6 355.0,404.1 359.0,403.6 363.0,403.1 367.0,402.6 371.0,402.1 375.0,401.6 379.0,401.1 383.0,400.6 387.0,400.1 391.0,399.6 395.0,399.1 399.0,398.6 403.0,398.1 407.0,397.6 411.0,397.2 415.0,396.9 419.0,396.6 423.0,396.2 427.0,395.9 431.0,395.6 435.0,395.2 439.0,394.9 443.0,394.6 447.0,394.2 451.0,393.9 455.0,393.6 459.0,393.1 463.0,392.6 467.0,391.8 471.0,391.1 475.0,390.6 479.0,389.8 483.0,388.6 487.0,387.8 491.0,387.1 495.0,386.5 499.0,385.8 503.0,384.7 507.0,383.8 511.0,383.1 515.0,382.6 519.0,381.5 523.0,380.3 527.0,379.4 531.0,378.5 535.0,377.6 539.0,376.7 543.0,375.7 547.0,374.7 551.0,373.6 555.0,372.5 559.0,371.4 563.0,370.3 567.0,369.2 571.0,368.1 575.0,367.0 579.0,365.8 583.0,364.7 587.0,363.5 591.0,362.3 595.0,361.1 599.0,359.7 603.0,358.3 607.0,356.8 611.0,355.4 615.0,353.9 619.0,352.5 623.0,351.1 627.0,349.7 631.0,348.3 635.0,347.0 639.0,345.7 643.0,344.4 647.0,343.2 651.0,342.0 655.0,340.7 659.0,339.4 663.0,338.1 667.0,336.9 671.0,335.8 675.0,334.6 679.0,333.5 683.0,332.5 687.0,331.5 691.0,330.7 695.0,330.0 699.0,329.1 703.0,328.3 707.0,327.4 711.0,326.5 715.0,325.5 719.0,324.5 723.0,323.6 727.0,322.8 731.0,322.1 735.0,321.2 739.0,320.1 743.0,319.0 747.0,318.1 751.0,317.2 755.0,316.2 759.0,315.6 763.0,315.1 767.0,314.7 771.0,314.3 775.0,313.9 779.0,313.4 783.0,312.9 787.0,312.2 791.0,311.2 795.0,310.2 799.0,309.6 803.0,309.1 807.0,308.6 811.0,308.1 815.0,307.5 819.0,306.8 823.0,306.2 827.0,305.6 831.0,305.1 835.0,304.4 839.0,303.7 843.0,303.0 847.0,302.2 851.0,301.2 855.0,300.6 859.0,299.9 863.0,299.4 867.0,299.0 871.0,298.6 875.0,298.0 879.0,297.4 883.0,297.2 887.0,296.9 891.0,296.7 895.0,296.5 899.0,296.3 903.0,296.1 907.0,295.9 911.0,295.6 915.0,295.4 919.0,295.2 923.0,295.1 927.0,294.8 931.0,294.5 935.0,294.2 939.0,293.9 943.0,293.6 947.0,293.2 951.0,292.9 955.0,292.5 959.0,292.1 963.0,291.5 967.0,290.8 971.0,290.2 975.0,289.6 979.0,289.1 983.0,288.5 987.0,287.8 991.0,287.2 995.0,286.5 999.0,285.9 1003.0,285.4 1007.0,284.9 1011.0,284.4 1015.0,283.8 1019.0,283.2 1023.0,282.7 1027.0,282.3 1031.0,281.9 1035.0,281.5 1039.0,281.1 1043.0,280.6 1047.0,280.0" fill="none" stroke="#ffff00" stroke-width="2" stroke-linejoin="round"/><polyline points="3.0,455.4 7.0,455.4 11.0,455.4 15.0,455.4 19.0,456.0 23.0,456.0 27.0,456.0 31.0,456.6 35.0,456.6 39.0,456.6 43.0,458.0 47.0,458.0 51.0,458.0 55.0,458.0 59.0,458.0 63.0,458.0 67.0,458.0 71.0,456.8 75.0,455.5 79.0,454.5 83.0,453.5 87.0,452.5 91.0,450.9 95.0,449.2 99.0,446.4 103.0,444.0 107.0,442.0 111.0,440.0 115.0,438.0 119.0,436.1 123.0,434.1 127.0,432.0 131.0,429.5 135.0,427.1 139.0,424.7 143.0,422.5 147.0,420.3 151.0,418.2 155.0,416.3 159.0,414.5 163.0,413.2 167.0,412.0 171.0,410.8 175.0,409.5 179.0,408.3 183.0,407.1 187.0,406.0 191.0,404.9 195.0,403.9 199.0,402.8 203.0,401.6 207.0,399.8 211.0,398.1 215.0,396.4 219.0,394.7 223.0,392.4 227.0,389.7 231.0,387.0 235.0,384.4 239.0,381.7 243.0,379.7 247.0,377.9 251.0,376.0 255.0,373.2 259.0,370.4 263.0,367.7 267.0,365.0 271.0,362.4 275.0,361.0 279.0,359.6 283.0,358.3 287.0,357.2 291.0,356.2 295.0,355.2 299.0,354.2 303.0,353.3 307.0,352.9 311.0,352.5 315.0,352.0 319.0,351.5 323.0,350.9 327.0,350.4 331.0,349.9 335.0,349.3 339.0,348.8 343.0,348.3 347.0,347.7 351.0,347.0 355.0,346.3 359.0,345.7 363.0,345.0 367.0,344.2 371.0,343.1 375.0,342.0 379.0,340.9 383.0,339.8 387.0,338.7 391.0,337.2 395.0,335.7 399.0,334.7 403.0,334.1 407.0,333.5 411.0,333.2 415.0,332.9 419.0,332.5 423.0,332.2 427.0,331.9 431.0,331.7 435.0,331.6 439.0,331.6 443.0,331.5 447.0,331.4 451.0,331.1 455.0,330.6 459.0,330.1 463.0,329.1 467.0,328.0 471.0,326.8 475.0,325.3 479.0,323.8 483.0,322.3 487.0,321.0 491.0,319.5 495.0,317.7 499.0,315.9 503.0,314.0 507.0,312.2 511.0,310.3 515.0,308.1 519.0,305.9 523.0,303.7 527.0,301.5 531.0,299.3 535.0,297.1 539.0,294.9 543.0,292.3 547.0,289.1 551.0,285.9 555.0,282.7 559.0,279.5 563.0,276.2 567.0,273.0 571.0,269.8 575.0,266.6 579.0,263.5 583.0,260.4 587.0,257.2 591.0,254.1 595.0,250.9 599.0,247.7 603.0,244.1 607.0,240.2 611.0,236.2 615.0,232.0 619.0,227.8 623.0,223.5 627.0,219.9 631.0,216.3 635.0,212.8 639.0,209.9 643.0,207.0 647.0,204.2 651.0,201.4 655.0,198.7 659.0,196.7 663.0,195.5 667.0,194.3 671.0,194.0 675.0,194.0 679.0,194.0 683.0,195.2 687.0,196.4 691.0,197.7 695.0,199.2 699.0,200.8 703.0,202.0 707.0,203.2 711.0,204.3 715.0,205.4 719.0,206.5 723.0,207.3 727.0,207.9 731.0,208.5 735.0,209.5 739.0,210.5 743.0,212.0 747.0,214.0 751.0,216.0 755.0,219.8 759.0,223.7 763.0,227.5 767.0,230.7 771.0,233.9 775.0,236.6 779.0,239.0 783.0,241.4 787.0,245.0 791.0,248.7 795.0,252.1 799.0,255.3 803.0,258.4 807.0,262.6 811.0,267.0 815.0,271.1 819.0,273.5 823.0,275.9 827.0,278.5 831.0,281.3 835.0,284.1 839.0,287.3 843.0,290.5 847.0,293.6 851.0,296.4 855.0,299.2 859.0,301.7 863.0,304.1 867.0,306.4 871.0,307.8 875.0,309.1 879.0,310.3 883.0,311.1 887.0,311.9 891.0,312.7 895.0,313.6 899.0,314.5 903.0,315.4 907.0,316.3 911.0,317.4 915.0,318.4 919.0,319.4 923.0,319.7 927.0,319.9 931.0,320.1 935.0,320.4 939.0,320.8 943.0,321.2 947.0,321.5 951.0,321.5 955.0,321.3 959.0,320.3 963.0,319.1 967.0,317.9 971.0,316.7 975.0,315.2 979.0,313.6 983.0,312.1 987.0,310.6 991.0,309.2 995.0,307.7 999.0,306.3 1003.0,305.3 1007.0,304.3 1011.0,303.3 1015.0,302.1 1019.0,300.9 1023.0,299.8 1027.0,298.8 1031.0,297.6 1035.0,296.6 1039.0,295.8 1043.0,294.7 1047.0,293.5" fill="none" stroke="#ff0000" stroke-width="2" stroke-linejoin="round"/><rect x="3" y="42" width="1314" height="2" fill="#ffff00"/><rect x="3" y="128" width="1314" height="2" fill="#ffff00"/><rect x="3" y="215" width="1314" height="2" fill="#ffff00"/><rect x="3" y="268" width="1314" height="2" fill="#ffff00"/><rect x="3" y="311" width="1314" height="2" fill="#ffff00"/><rect x="3" y="354" width="1314" height="2" fill="#ffff00"/><rect x="3" y="366" width="1314" height="2" fill="#ffff00"/><rect x="3" y="416" width="1314" height="2" fill="#ffff00"/><rect x="3" y="494" width="1314" height="2" fill="#ffff00"/><rect x="2.5" y="2.5" width="1315" height="586" fill="none" stroke="#fff" stroke-width="1"/><rect x="2.5" y="590.5" width="1315" height="105" fill="none" stroke="#fff" stroke-width="1"/><rect x="1318" y="24" width="2" height="1" fill="#fff"/><rect x="1318" y="57" width="2" height="1" fill="#fff"/><rect x="1318" y="90" width="2" height="1" fill="#fff"/><rect x="1318" y="123" width="2" height="1" fill="#fff"/><rect x="1318" y="156" width="2" height="1" fill="#fff"/><rect x="1318" y="189" width="2" height="1" fill="#fff"/><rect x="1318" y="222" width="2" height="1" fill="#fff"/><rect x="1318" y="255" width="2" height="1" fill="#fff"/><rect x="1318" y="288" width="2" height="1" fill="#fff"/><rect x="1318" y="321" width="2" height="1" fill="#fff"/><rect x="1318" y="354" width="2" height="1" fill="#fff"/><rect x="1318" y="387" width="2" height="1" fill="#fff"/><rect x="1318" y="420" width="2" height="1" fill="#fff"/><rect x="1318" y="453" width="2" height="1" fill="#fff"/><rect x="1318" y="486" width="2" height="1" fill="#fff"/><rect x="1318" y="519" width="2" height="1" fill="#fff"/><rect x="1318" y="552" width="2" height="1" fill="#fff"/><rect x="1318" y="585" width="2" height="1" fill="#fff"/><line x1="-2" y1="622.5" x2="1317" y2="622.5" stroke="#c8c8c8" stroke-width="1" stroke-dasharray="3 3"/><line x1="-2" y1="643.5" x2="1317" y2="643.5" stroke="#c8c8c8" stroke-width="1" stroke-dasharray="3 3"/><line x1="-2" y1="664.5" x2="1317" y2="664.5" stroke="#c8c8c8" stroke-width="1" stroke-dasharray="3 3"/><rect x="1318" y="592" width="1" height="1" fill="#fff"/><rect x="1318" y="694" width="1" height="1" fill="#fff"/><polyline points="3.0,636.0 7.0,639.6 12.9,640.0 19.9,641.2 29.8,641.0 39.7,642.0 47.6,642.0 51.6,640.6 56.6,640.6 59.6,635.6 63.0,639.0 67.5,629.7 73.5,620.8 79.4,610.8 83.4,611.8 87.4,611.2 92.3,613.0 95.3,612.8 101.3,609.8 106.2,607.9 109.2,608.8 115.1,620.8 119.1,616.8 123.1,618.8 127.0,624.7 131.0,624.7 135.0,623.7 139.0,626.7 143.0,625.7 147.0,629.7 151.3,619.8 154.9,633.7 158.8,647.6 162.8,648.0 167.8,655.0 172.7,653.0 179.7,652.5 182.7,646.0 186.6,646.0 190.6,648.0 196.5,648.0 202.5,641.6 207.5,630.7 214.4,634.7 223.4,632.7 227.3,621.8 232.3,618.8 238.2,622.7 243.2,631.3 248.2,632.0 251.7,637.6 255.1,627.7 260.0,628.7 268.0,629.1 272.0,631.7 276.0,633.3 280.0,634.0 284.0,637.6 291.8,631.1 296.7,631.1 302.7,632.0 306.7,632.7 311.6,638.0 315.6,640.0 319.6,645.6 325.5,646.0 331.5,643.2 336.4,647.6 343.4,655.5 347.4,645.6 351.3,644.6 355.3,640.6 359.3,631.1 363.2,646.2 367.2,648.8 371.2,644.0 375.1,648.8 379.1,634.7 383.1,646.6 391.0,646.2 399.0,650.0 408.9,650.0 416.8,647.6 420.8,644.0 428.8,642.0 434.7,639.6 439.7,632.3 443.6,638.0 447.6,631.7 451.6,632.7 459.5,622.8 465.5,622.8 470.4,613.8 475.4,615.8 479.4,615.8 485.3,611.8 487.3,612.2 491.3,619.2 496.3,615.8 502.2,616.2 508.2,621.8 520.0,621.4 525.0,621.4 527.0,623.8 531.0,634.7 534.9,626.7 539.9,626.3 546.8,613.8 550.8,613.8 554.7,623.8 559.7,621.8 563.7,621.4 567.3,619.8 570.6,635.7 574.6,635.7 579.6,633.1 585.5,632.1 593.5,626.7 599.4,629.7 602.4,629.7 610.3,624.7 617.3,628.7 623.2,631.1 627.2,635.1 633.2,630.1 636.1,630.1 639.1,636.1 643.1,636.1 647.1,627.7 651.0,640.6 655.0,644.6 659.0,656.5 663.0,655.1 666.9,662.5 670.9,663.5 675.8,666.4 678.8,666.8 683.8,670.0 688.8,668.4 693.7,667.8 698.7,669.8 707.6,669.8 711.6,665.8 716.5,665.4 721.5,659.1 726.5,660.5 731.4,660.5 735.4,651.9 739.4,650.0 743.3,638.6 747.3,642.0 751.3,648.0 755.3,664.5 759.2,671.0 763.2,670.4 767.2,665.4 772.1,664.8 776.1,662.9 780.1,663.5 783.0,655.5 787.9,657.9 792.9,655.5 800.8,655.5 804.8,656.9 810.8,652.9 815.7,652.9 819.7,643.6 823.7,642.0 830.6,633.7 834.6,635.7 839.6,635.7 843.5,642.0 850.5,639.6 858.4,657.9 863.4,657.9 870.3,649.6 876.3,649.2 883.2,644.0 888.2,643.6 891.2,640.6 899.1,647.6 907.1,650.0 915.0,642.6 919.0,648.0 922.9,642.0 926.9,630.7 930.9,626.7 935.8,626.7 939.8,623.7 943.8,626.7 947.8,635.7 951.7,635.7 954.7,629.1 958.7,641.2 962.6,631.7 971.6,638.6 978.5,638.6 986.5,631.7 990.4,632.7 997.4,639.6 1006.3,640.6 1014.3,629.7 1019.2,631.1 1025.2,626.7 1032.1,627.1 1035.1,628.7 1039.1,637.1 1043.1,632.7 1047.0,635.0" fill="none" stroke="#1e90ff" stroke-width="2" stroke-linejoin="round"/><rect x="3" y="696" width="1" height="3" fill="#fff"/><rect x="67" y="696" width="1" height="3" fill="#fff"/><rect x="131" y="696" width="1" height="3" fill="#fff"/><rect x="195" y="696" width="1" height="3" fill="#fff"/><rect x="259" y="696" width="1" height="3" fill="#fff"/><rect x="323" y="696" width="1" height="3" fill="#fff"/><rect x="387" y="696" width="1" height="3" fill="#fff"/><rect x="451" y="696" width="1" height="3" fill="#fff"/><rect x="515" y="696" width="1" height="3" fill="#fff"/><rect x="579" y="696" width="1" height="3" fill="#fff"/><rect x="643" y="696" width="1" height="3" fill="#fff"/><rect x="707" y="696" width="1" height="3" fill="#fff"/><rect x="771" y="696" width="1" height="3" fill="#fff"/><rect x="835" y="696" width="1" height="3" fill="#fff"/><rect x="899" y="696" width="1" height="3" fill="#fff"/><rect x="963" y="696" width="1" height="3" fill="#fff"/><rect x="1027" y="696" width="1" height="3" fill="#fff"/></svg>
<div style="position:absolute;left:1319px;top:243px;width:41px;height:11px;background:#fff"></div>
<svg style="position:absolute;left:0;top:0" width="20" height="20"><polygon points="6,9 13,9 9.5,12.5" fill="#fff"/></svg>
<div class="t" style="left:19px;top:6px;color:#fff;word-spacing:3.1px">EURCHFm,H1 1.16387 1.16391 1.16291 1.16354</div><div class="t" style="left:1323px;top:20px;color:#fff;">1.17750</div><div class="t" style="left:1323px;top:53px;color:#fff;">1.17545</div><div class="t" style="left:1323px;top:86px;color:#fff;">1.17340</div><div class="t" style="left:1323px;top:119px;color:#fff;">1.17135</div><div class="t" style="left:1323px;top:152px;color:#fff;">1.16930</div><div class="t" style="left:1323px;top:185px;color:#fff;">1.16725</div><div class="t" style="left:1323px;top:218px;color:#fff;">1.16515</div><div class="t" style="left:1323px;top:251px;color:#fff;">1.16310</div><div class="t" style="left:1323px;top:284px;color:#fff;">1.16105</div><div class="t" style="left:1323px;top:317px;color:#fff;">1.15900</div><div class="t" style="left:1323px;top:350px;color:#fff;">1.15695</div><div class="t" style="left:1323px;top:383px;color:#fff;">1.15490</div><div class="t" style="left:1323px;top:416px;color:#fff;">1.15285</div><div class="t" style="left:1323px;top:449px;color:#fff;">1.15080</div><div class="t" style="left:1323px;top:482px;color:#fff;">1.14870</div><div class="t" style="left:1323px;top:515px;color:#fff;">1.14665</div><div class="t" style="left:1323px;top:548px;color:#fff;">1.14460</div><div class="t" style="left:1323px;top:581px;color:#fff;">1.14255</div><div class="t r" style="right:44px;top:33px;color:#ffff00;word-spacing:1.7px">-23.6 - 1.17634</div><div class="t r" style="right:44px;top:119px;color:#ffff00;word-spacing:1.7px">0.0 - 1.17096</div><div class="t r" style="right:44px;top:206px;color:#ffff00;word-spacing:1.7px">23.6 - 1.16558</div><div class="t r" style="right:44px;top:259px;color:#ffff00;word-spacing:1.7px">38.2 - 1.16225</div><div class="t r" style="right:44px;top:302px;color:#ffff00;word-spacing:1.7px">50.0 - 1.15956</div><div class="t r" style="right:44px;top:345px;color:#ffff00;word-spacing:1.7px">61.8 - 1.15686</div><div class="t r" style="right:44px;top:357px;color:#ffff00;word-spacing:1.7px">65.0 - 1.15613</div><div class="t r" style="right:44px;top:407px;color:#ffff00;word-spacing:1.7px">78.6 - 1.15303</div><div class="t r" style="right:44px;top:485px;color:#ffff00;word-spacing:1.7px">100.0 - 1.14815</div><div class="t" style="left:7px;top:595px;color:#fff;word-spacing:1.7px">RSI(13) 57.8471</div><div class="t" style="left:1321px;top:593px;color:#fff;">100</div><div class="t" style="left:1320.5px;top:618px;color:#fff;">70</div><div class="t" style="left:1320.5px;top:639px;color:#fff;">50</div><div class="t" style="left:1320.5px;top:660px;color:#fff;">30</div><div class="t" style="left:1321px;top:684px;color:#fff;">0</div><div class="t" style="left:3px;top:700px;color:#fff;word-spacing:1.1px">17 Oct 2017</div><div class="t" style="left:67px;top:700px;color:#fff;word-spacing:1.1px">18 Oct 12:00</div><div class="t" style="left:131px;top:700px;color:#fff;word-spacing:1.1px">19 Oct 04:00</div><div class="t" style="left:195px;top:700px;color:#fff;word-spacing:1.1px">19 Oct 20:00</div><div class="t" style="left:259px;top:700px;color:#fff;word-spacing:1.1px">20 Oct 12:00</div><div class="t" style="left:323px;top:700px;color:#fff;word-spacing:1.1px">23 Oct 04:00</div><div class="t" style="left:387px;top:700px;color:#fff;word-spacing:1.1px">23 Oct 20:00</div><div class="t" style="left:451px;top:700px;color:#fff;word-spacing:1.1px">24 Oct 12:00</div><div class="t" style="left:515px;top:700px;color:#fff;word-spacing:1.1px">25 Oct 04:00</div><div class="t" style="left:579px;top:700px;color:#fff;word-spacing:1.1px">25 Oct 20:00</div><div class="t" style="left:643px;top:700px;color:#fff;word-spacing:1.1px">26 Oct 12:00</div><div class="t" style="left:707px;top:700px;color:#fff;word-spacing:1.1px">27 Oct 04:00</div><div class="t" style="left:771px;top:700px;color:#fff;word-spacing:1.1px">27 Oct 20:00</div><div class="t" style="left:835px;top:700px;color:#fff;word-spacing:1.1px">30 Oct 12:00</div><div class="t" style="left:899px;top:700px;color:#fff;word-spacing:1.1px">31 Oct 04:00</div><div class="t" style="left:963px;top:700px;color:#fff;word-spacing:1.1px">31 Oct 20:00</div><div class="t" style="left:1027px;top:700px;color:#fff;word-spacing:1.1px">1 Nov 12:00</div><div class="t" style="left:1323px;top:244px;color:#000;">1.16354</div>
</body></html>
